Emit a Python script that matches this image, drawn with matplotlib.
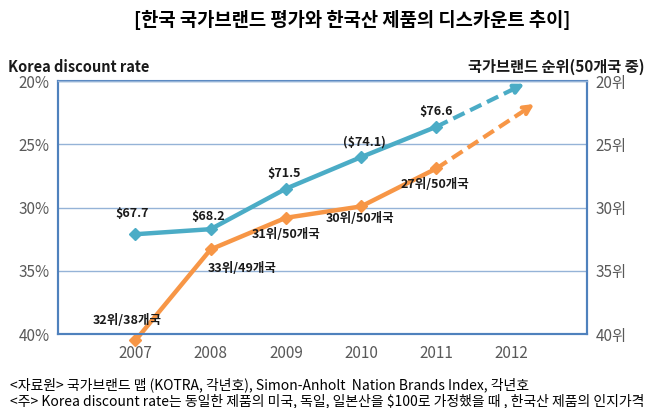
import numpy as np
import matplotlib.pyplot as plt

plt.rcParams["font.family"] = ["Noto Sans CJK KR", "DejaVu Sans"]

years = [2007, 2008, 2009, 2010, 2011]
year_ticks = [2007, 2008, 2009, 2010, 2011, 2012]

# discount rate (%)
discount = [32.1, 31.7, 28.5, 26.0, 23.6]
price_labels = ["$67.7", "$68.2", "$71.5", "($74.1)", "$76.6"]

# nation brand rank line, as drawn on the same scale
brand = [40.5, 33.3, 30.8, 29.9, 26.9]
rank_labels = ["32위/38개국", "33위/49개국", "31위/50개국", "30위/50개국", "27위/50개국"]

# dashed projections toward 2012
discount_proj = (2012.17, 20.2)
brand_proj = (2012.3, 21.8)

blue = "#4BACC6"
orange = "#F79646"
spine_c = "#4F81BD"
grid_c = "#95B3D7"

fig = plt.figure(figsize=(6.5, 4.08), dpi=100)
ax = fig.add_axes([0.089, 0.181, 0.814, 0.620])

ax.plot(years, discount, color=blue, lw=3.2, marker="D", ms=6, zorder=3, clip_on=False)
ax.plot(years, brand, color=orange, lw=3.2, marker="D", ms=6, zorder=3, clip_on=False)

for proj, c, style in [(discount_proj, blue, "-|>"), (brand_proj, orange, "->")]:
    x0, y0 = years[-1], (discount if c == blue else brand)[-1]
    x1, y1 = proj
    xm = x0 + (x1 - x0) * 0.85
    ym = y0 + (y1 - y0) * 0.85
    ax.plot([x0, xm], [y0, ym], color=c, lw=3, ls=(0, (3, 1.5)), zorder=2, clip_on=False)
    ax.annotate("", xy=(x1, y1), xytext=(xm, ym),
                arrowprops=dict(arrowstyle=style, color=c, lw=3,
                                mutation_scale=14, shrinkA=0, shrinkB=0),
                annotation_clip=False)

price_off = [(-2, 10), (-2, 4.5), (-1, 6), (2, 6), (0, 6)]
for x, y, t, (dx, dy) in zip(years, discount, price_labels, price_off):
    ax.annotate(t, (x, y), xytext=(dx, dy), textcoords="offset points",
                ha="center", va="bottom", fontsize=9, fontweight="bold", color="#1a1a1a",
                annotation_clip=False)

rank_off = [(-6, 10), (23, -9), (0, -7), (-1, -4), (-1, -7)]
rank_va = ["bottom", "top", "top", "top", "top"]
for x, y, t, (dx, dy), va in zip(years, brand, rank_labels, rank_off, rank_va):
    ax.annotate(t, (x, y), xytext=(dx, dy), textcoords="offset points",
                ha="center", va=va, fontsize=9, fontweight="bold", color="#1a1a1a",
                annotation_clip=False)

ax.set_xlim(2005.97, 2013.0)
ax.set_ylim(40, 20)
ax.set_xticks(year_ticks)
ax.set_xticklabels([str(y) for y in year_ticks])
yt = [20, 25, 30, 35, 40]
ax.set_yticks(yt)
ax.set_yticklabels([f"{v}%" for v in yt])
ax.yaxis.grid(True, color=grid_c, lw=1)
ax.set_axisbelow(True)
ax.tick_params(length=0, labelsize=11, colors="#595959", pad=6)
ax.tick_params(axis="x", pad=8)

ax2 = ax.twinx()
ax2.set_ylim(40, 20)
ax2.set_yticks(yt)
ax2.set_yticklabels([f"{v}위" for v in yt])
ax2.tick_params(length=0, labelsize=11, colors="#595959", pad=6)

for a in (ax, ax2):
    for s in a.spines.values():
        s.set_color(spine_c)
        s.set_linewidth(1.5)
ax2.spines["top"].set_color(grid_c)
ax2.spines["top"].set_linewidth(1)

fig.text(0.542, 0.95, "[한국 국가브랜드 평가와 한국산 제품의 디스카운트 추이]",
         ha="center", va="center", fontsize=13.5, fontweight="bold")
fig.text(0.012, 0.835, "Korea discount rate", ha="left", va="center",
         fontsize=10.5, fontweight="bold", color="#1a1a1a")
fig.text(0.992, 0.835, "국가브랜드 순위(50개국 중)", ha="right", va="center",
         fontsize=11, fontweight="bold", color="#1a1a1a")

fig.text(0.015, 0.058, "<자료원> 국가브랜드 맵 (KOTRA, 각년호), Simon-Anholt  Nation Brands Index, 각년호",
         ha="left", va="center", fontsize=10)
fig.text(0.015, 0.018, "<주> Korea discount rate는 동일한 제품의 미국, 독일, 일본산을 $100로 가정했을 때 , 한국산 제품의 인지가격",
         ha="left", va="center", fontsize=10)

fig.savefig("out.png", dpi=100)
